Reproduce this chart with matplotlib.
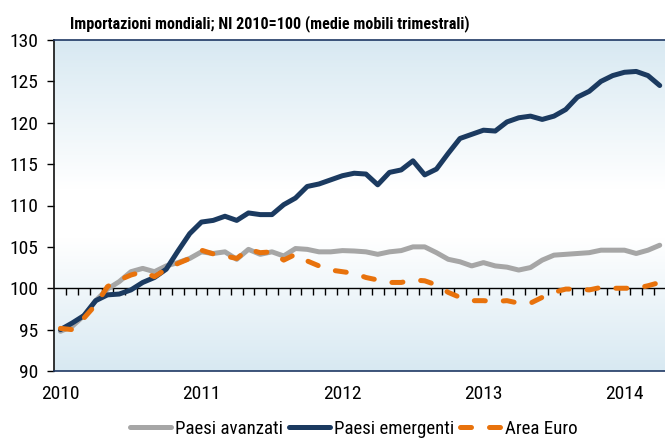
import numpy as np
import matplotlib
matplotlib.use('Agg')
import matplotlib.pyplot as plt
import matplotlib.font_manager as fm
from matplotlib.colors import LinearSegmentedColormap

# font stretto tipo Arial Narrow, se disponibile
preferiti = ['Liberation Sans Narrow', 'Arial Narrow', 'Roboto Condensed', 'PT Sans Narrow',
             'Open Sans Condensed', 'Archivo Narrow', 'Asap Condensed']
statici = [f for f in fm.fontManager.ttflist if '[' not in f.fname]
def scegli(peso):
    for n in preferiti:
        if any(f.name == n and (f.weight == peso or f.weight == str(peso)) for f in statici):
            return n
    return 'Liberation Sans'
font_norm = scegli(400)
font_bold = scegli(700)
plt.rcParams['font.family'] = [font_norm, 'DejaVu Sans']

# dati mensili, gen 2010 - apr 2014
mesi = np.arange(52)
avanzati = [94.8, 95.4, 96.7, 98.5, 99.9, 100.8, 102.0, 102.4, 102.0, 102.7, 103.1, 103.6,
            104.4, 104.2, 104.4, 103.5, 104.7, 104.1, 104.4, 103.9, 104.8, 104.7, 104.4, 104.4,
            104.55, 104.5, 104.4, 104.1, 104.4, 104.55, 105.0, 105.0, 104.3, 103.5, 103.2, 102.7,
            103.1, 102.7, 102.55, 102.2, 102.5, 103.4, 104.0, 104.1, 104.2, 104.3, 104.6, 104.6,
            104.6, 104.2, 104.6, 105.2]
emergenti = [95.0, 95.8, 96.7, 98.5, 99.2, 99.3, 99.8, 100.7, 101.3, 102.3, 104.5, 106.6,
             108.0, 108.2, 108.7, 108.2, 109.1, 108.9, 108.9, 110.1, 110.9, 112.3, 112.6, 113.1,
             113.6, 113.9, 113.8, 112.5, 114.0, 114.3, 115.4, 113.7, 114.4, 116.3, 118.1, 118.6,
             119.1, 119.0, 120.1, 120.6, 120.8, 120.4, 120.8, 121.6, 123.1, 123.8, 125.0, 125.7,
             126.1, 126.2, 125.7, 124.5]
euro = [95.15, 95.0, 96.4, 98.0, 100.2, 101.0, 101.6, 102.0, 101.4, 102.3, 103.0, 103.6,
        104.6, 104.15, 103.9, 103.6, 104.7, 104.3, 104.4, 103.4, 104.1, 103.3, 102.7, 102.2,
        102.0, 101.8, 101.3, 101.0, 100.7, 100.7, 101.0, 100.9, 100.4, 99.5, 98.9, 98.5,
        98.5, 98.4, 98.5, 98.2, 98.2, 98.9, 99.5, 99.9, 99.9, 99.8, 100.1, 100.0,
        100.0, 100.0, 100.3, 100.7]
anni = ['2010', '2011', '2012', '2013', '2014']
pos_anni = [0, 12, 24, 36, 48]

fig = plt.figure(figsize=(6.65, 4.41), dpi=100)
ax = fig.add_axes([54/665, 1-371/441, 611/665, 331/441])

# sfondo sfumato
cmap = LinearSegmentedColormap.from_list('bg', [(0, '#d8e9f2'), (0.45, '#ffffff'),
                                                (0.6, '#ffffff'), (1, '#d8e9f2')])
grad = np.linspace(0, 1, 256).reshape(-1, 1)
ax.imshow(grad, cmap=cmap, aspect='auto', extent=(0, 1, 0, 1),
          transform=ax.transAxes, zorder=0)

ax.plot(mesi, avanzati, color='#a6a6a6', lw=3.6, label='Paesi avanzati',
        solid_capstyle='round', solid_joinstyle='round', zorder=3)
ax.plot(mesi, emergenti, color='#1b3a60', lw=3.6, label='Paesi emergenti',
        solid_capstyle='round', solid_joinstyle='round', zorder=4)
ax.plot(mesi, euro, color='#e8720c', lw=3.6, ls=(0, (2.2, 3.6)), label='Area Euro',
        dash_capstyle='round', dash_joinstyle='round', zorder=5)

ax.set_xlim(-0.55, 51.45)
ax.set_ylim(90, 130)
ax.set_yticks(np.arange(90, 131, 5))
ax.tick_params(axis='y', direction='out', length=5, width=1, pad=6, labelsize=14)
ax.set_xticks(pos_anni)
ax.set_xticklabels(anni)
ax.tick_params(axis='x', length=0, pad=10, labelsize=14)

for s in ['left', 'top', 'bottom']:
    ax.spines[s].set_color('#1f3864')
    ax.spines[s].set_linewidth(1.2)
ax.spines['left'].set_color('#111111')
ax.spines['right'].set_visible(False)

# asse a 100 con tacche mensili
sec = ax.secondary_xaxis(0.25)
sec.set_xticks(np.arange(0.5, 51, 1))
sec.tick_params(direction='out', length=5, width=1, labelbottom=False)
sec.spines['bottom'].set_color('black')
sec.spines['bottom'].set_linewidth(1)

fig.text(270/665, 1-24/441, 'Importazioni mondiali; NI 2010=100 (medie mobili trimestrali)',
         ha='center', va='center', fontsize=11.6, fontweight='bold',
         family=[font_bold, 'DejaVu Sans'])

fig.legend(loc='center', bbox_to_anchor=(354/665, 1-429/441), ncol=3, frameon=False,
           fontsize=13.6, handlelength=2.2, columnspacing=0.3, handletextpad=0.2,
           borderpad=0.1)

fig.savefig('out.png', dpi=100)
